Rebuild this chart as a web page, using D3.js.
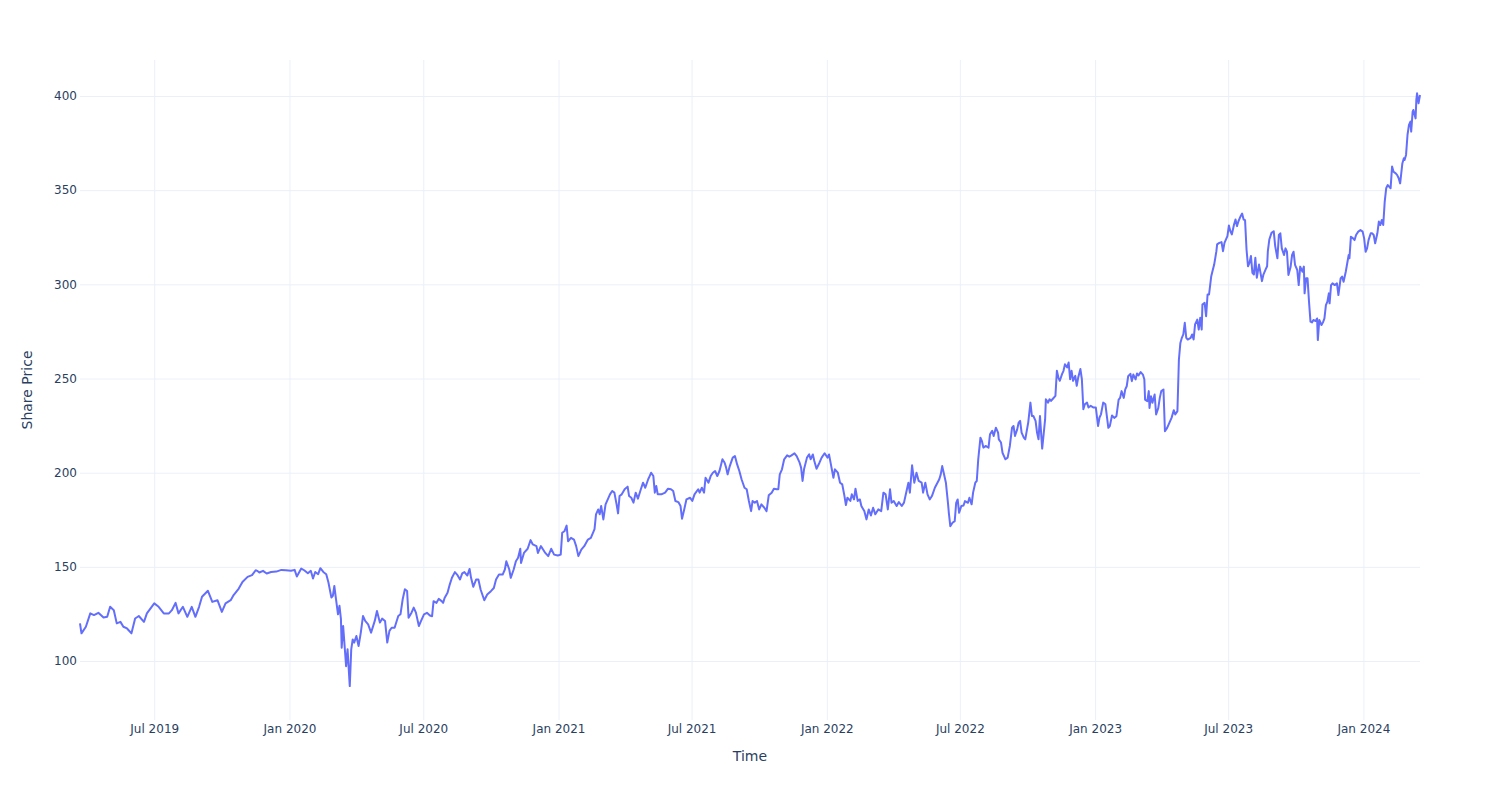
<!DOCTYPE html>
<html><head><meta charset="utf-8">
<script src="https://cdn.jsdelivr.net/npm/d3@7"></script>
<style>body{margin:0;background:#fff} svg{display:block}</style>
</head><body><svg id="chart" width="1500" height="800"></svg>
<script>
const prices2019 = [["2019-03-22",120],["2019-03-24",114.7],["2019-03-30",118.2],["2019-04-05",125.3],["2019-04-10",124.4],["2019-04-16",125.6],["2019-04-23",123.1],["2019-04-28",123.5],["2019-05-02",128.8],["2019-05-07",127],["2019-05-11",120],["2019-05-16",120.8],["2019-05-20",118.2],["2019-05-25",117.3],["2019-05-31",114.7],["2019-06-05",122.6],["2019-06-10",123.9],["2019-06-17",120.8],["2019-06-21",125.3],["2019-07-01",130.6],["2019-07-07",128.8],["2019-07-14",125.3],["2019-07-21",125.3],["2019-07-25",127],["2019-07-30",130.9],["2019-08-03",125.3],["2019-08-09",128.8],["2019-08-15",123.5],["2019-08-21",128.8],["2019-08-26",123.5],["2019-08-31",128.8],["2019-09-04",134.1],["2019-09-12",137.3],["2019-09-18",131.4],["2019-09-25",132.3],["2019-10-01",126.1],["2019-10-06",130.6],["2019-10-13",132.3],["2019-10-17",135],["2019-10-24",138.5],["2019-10-29",142],["2019-11-05",144.7],["2019-11-11",145.6],["2019-11-16",148.2],["2019-11-18",147.9],["2019-11-21",147],["2019-11-26",147.9],["2019-12-01",146.5],["2019-12-07",147.3],["2019-12-14",147.5],["2019-12-21",148.4],["2019-12-27",148.2]];
const prices2020 = [["2020-01-03",147.9],["2020-01-08",148.4],["2020-01-11",144.9],["2020-01-17",149.1],["2020-01-21",148.2],["2020-01-26",146.6],["2020-01-30",147.9],["2020-02-02",143.8],["2020-02-05",147.3],["2020-02-09",146.1],["2020-02-12",149.3],["2020-02-16",147.3],["2020-02-20",146.1],["2020-02-23",141.7],["2020-02-27",133.7],["2020-02-29",134.6],["2020-03-02",139.9],["2020-03-04",133.7],["2020-03-07",124.8],["2020-03-09",129.3],["2020-03-11",122.2],["2020-03-12",107.1],["2020-03-14",118.6],["2020-03-16",108],["2020-03-18",97.3],["2020-03-20",106.2],["2020-03-23",86.7],["2020-03-25",106.2],["2020-03-27",111.5],["2020-03-29",109.8],["2020-04-01",113.3],["2020-04-04",108],["2020-04-07",115.1],["2020-04-10",123.9],["2020-04-13",121.3],["2020-04-17",119.5],["2020-04-21",115.1],["2020-04-26",121.3],["2020-04-29",126.6],["2020-05-03",120.4],["2020-05-06",122.5],["2020-05-10",121.3],["2020-05-13",109.8],["2020-05-16",116],["2020-05-19",117.7],["2020-05-23",117.7],["2020-05-28",123.9],["2020-05-31",124.8],["2020-06-03",132.8],["2020-06-06",138.1],["2020-06-09",137.2],["2020-06-11",123],["2020-06-15",125.7],["2020-06-18",128.4],["2020-06-21",125.7],["2020-06-25",118.6],["2020-06-28",121.3],["2020-07-02",124.8],["2020-07-06",125.6],["2020-07-10",124.2],["2020-07-13",123.8],["2020-07-15",131.8],["2020-07-19",130.9],["2020-07-22",133],["2020-07-26",131.8],["2020-07-28",130.9],["2020-07-30",133.5],["2020-08-03",136.2],["2020-08-06",140.6],["2020-08-09",144.2],["2020-08-13",147.2],["2020-08-16",145.9],["2020-08-20",143.3],["2020-08-23",146.5],["2020-08-26",147.2],["2020-08-30",145.4],["2020-09-02",148.9],["2020-09-04",144.2],["2020-09-07",139.4],["2020-09-11",143.3],["2020-09-14",143.3],["2020-09-17",138],["2020-09-22",132.3],["2020-09-26",135.3],["2020-10-01",137.1],["2020-10-05",138.8],["2020-10-08",143.3],["2020-10-12",145.9],["2020-10-17",145.9],["2020-10-20",148.6],["2020-10-22",153],["2020-10-26",148.6],["2020-10-28",144.2],["2020-11-01",148.6],["2020-11-04",153],["2020-11-07",154.8],["2020-11-10",159.6],["2020-11-11",152.1],["2020-11-15",157.4],["2020-11-20",159.6],["2020-11-24",164.2],["2020-11-27",161.9],["2020-12-02",161],["2020-12-04",157.4],["2020-12-08",161],["2020-12-11",159.2],["2020-12-14",157.4],["2020-12-18",155.7],["2020-12-22",159.6],["2020-12-26",156.5],["2020-12-31",156]];
const prices2021 = [["2021-01-04",156.5],["2021-01-06",168.1],["2021-01-09",168.9],["2021-01-12",171.9],["2021-01-14",163.6],["2021-01-18",165.4],["2021-01-22",164.5],["2021-01-25",161],["2021-01-28",155.7],["2021-02-01",159.2],["2021-02-05",161],["2021-02-10",164.5],["2021-02-14",165.4],["2021-02-19",170],["2021-02-21",177.9],["2021-02-24",180.5],["2021-02-26",177.9],["2021-02-28",182.3],["2021-03-03",175.2],["2021-03-06",183.2],["2021-03-09",185.8],["2021-03-12",188.5],["2021-03-15",190.3],["2021-03-18",189.4],["2021-03-21",183.2],["2021-03-23",178.4],["2021-03-25",187.6],["2021-03-28",188.5],["2021-04-01",191.2],["2021-04-05",192.6],["2021-04-07",187.6],["2021-04-10",186.7],["2021-04-13",184.1],["2021-04-16",189.4],["2021-04-19",186.2],["2021-04-23",191.2],["2021-04-26",194.7],["2021-04-29",192],["2021-05-03",196.5],["2021-05-05",198.2],["2021-05-07",200],["2021-05-10",198.2],["2021-05-12",189.4],["2021-05-14",192.9],["2021-05-16",188.5],["2021-05-21",188.5],["2021-05-26",189.4],["2021-05-30",191.5],["2021-06-03",191.2],["2021-06-06",190.3],["2021-06-09",185],["2021-06-13",184.4],["2021-06-16",182.3],["2021-06-18",175.6],["2021-06-21",180.5],["2021-06-24",185.8],["2021-06-29",186.7],["2021-07-02",185],["2021-07-05",188.5],["2021-07-10",191.2],["2021-07-12",189.4],["2021-07-15",192],["2021-07-18",189.4],["2021-07-20",197.3],["2021-07-24",194.7],["2021-07-27",198.2],["2021-07-30",200],["2021-08-02",200.9],["2021-08-05",198.2],["2021-08-08",200.9],["2021-08-12",207.1],["2021-08-15",205.3],["2021-08-17",202.7],["2021-08-19",199.1],["2021-08-22",203.5],["2021-08-26",208],["2021-08-29",208.8],["2021-09-01",204.4],["2021-09-04",200.9],["2021-09-07",196.5],["2021-09-11",192],["2021-09-14",191.2],["2021-09-17",185],["2021-09-20",179.6],["2021-09-22",185],["2021-09-25",184.1],["2021-09-28",185],["2021-10-01",180.5],["2021-10-04",183.2],["2021-10-08",181.4],["2021-10-11",179.6],["2021-10-14",188],["2021-10-18",189.4],["2021-10-21",191.5],["2021-10-25",191.2],["2021-10-27",191.2],["2021-10-29",199.1],["2021-11-01",201.8],["2021-11-04",207.1],["2021-11-08",209.2],["2021-11-11",208.5],["2021-11-14",209.2],["2021-11-18",210.3],["2021-11-21",208.8],["2021-11-25",205.3],["2021-11-27",202.7],["2021-11-29",195.6],["2021-12-01",201.8],["2021-12-05",208],["2021-12-08",209.7],["2021-12-10",207.1],["2021-12-13",209.7],["2021-12-15",206.2],["2021-12-18",202.1],["2021-12-22",205.3],["2021-12-25",208],["2021-12-29",210.3]];
const prices2022 = [["2022-01-02",208],["2022-01-04",209.7],["2022-01-07",203.5],["2022-01-10",197.3],["2022-01-12",201.8],["2022-01-16",200],["2022-01-19",194.7],["2022-01-22",193.8],["2022-01-25",187.6],["2022-01-27",182.8],["2022-01-29",186.7],["2022-02-02",185],["2022-02-04",188.5],["2022-02-07",185.8],["2022-02-09",191.5],["2022-02-12",185],["2022-02-15",185.8],["2022-02-17",182.3],["2022-02-21",179.6],["2022-02-24",175.2],["2022-02-27",180.5],["2022-03-02",177.3],["2022-03-05",181.4],["2022-03-08",177.9],["2022-03-12",180.5],["2022-03-16",179.6],["2022-03-19",189.4],["2022-03-22",188.5],["2022-03-25",180.5],["2022-03-28",191.2],["2022-03-30",184.1],["2022-04-02",185],["2022-04-06",182.3],["2022-04-09",184.4],["2022-04-13",182.3],["2022-04-16",184.1],["2022-04-20",191.2],["2022-04-22",194.7],["2022-04-24",189.4],["2022-04-27",203.9],["2022-04-30",194.7],["2022-05-03",200],["2022-05-06",195.6],["2022-05-10",194.7],["2022-05-12",189.4],["2022-05-15",194.7],["2022-05-18",188.5],["2022-05-21",185.8],["2022-05-24",187.6],["2022-05-28",192],["2022-06-03",196.5],["2022-06-05",199.1],["2022-06-07",203.5],["2022-06-10",198.2],["2022-06-12",194.7],["2022-06-15",183.2],["2022-06-16",178.7],["2022-06-18",171.6],["2022-06-21",173.4],["2022-06-24",174.3],["2022-06-26",184],["2022-06-28",185.8],["2022-06-30",178.7],["2022-07-03",182.3],["2022-07-06",182.6],["2022-07-08",184.9],["2022-07-12",184],["2022-07-14",186.7],["2022-07-17",183.2],["2022-07-19",189.4],["2022-07-22",194.7],["2022-07-24",195.6],["2022-07-26",207.1],["2022-07-29",218.6],["2022-07-31",216.8],["2022-08-02",213.3],["2022-08-05",214.2],["2022-08-09",213.3],["2022-08-11",220.4],["2022-08-14",222.2],["2022-08-16",219.5],["2022-08-19",223.9],["2022-08-22",221.3],["2022-08-23",217.7],["2022-08-26",216],["2022-08-28",210.6],["2022-09-01",207.1],["2022-09-04",208],["2022-09-07",214.2],["2022-09-10",223.9],["2022-09-12",224.8],["2022-09-14",219.5],["2022-09-17",223],["2022-09-19",226.6],["2022-09-21",227.5],["2022-09-23",221.3],["2022-09-26",218.6],["2022-09-28",217.7],["2022-09-30",222.2],["2022-10-02",226.6],["2022-10-05",237.2],["2022-10-07",230.1],["2022-10-09",230.1],["2022-10-12",227.5],["2022-10-14",221.3],["2022-10-16",217.7],["2022-10-18",230.1],["2022-10-21",212.8],["2022-10-23",220.4],["2022-10-25",228.4],["2022-10-26",239],["2022-10-29",237.2],["2022-10-31",239],["2022-11-02",238.1],["2022-11-04",239],["2022-11-08",240.8],["2022-11-10",254.1],["2022-11-12",250.5],["2022-11-14",248.8],["2022-11-17",252.3],["2022-11-19",254.1],["2022-11-21",257.6],["2022-11-24",255.9],["2022-11-26",258.5],["2022-11-28",249.6],["2022-11-30",254.1],["2022-12-02",248.8],["2022-12-05",251.4],["2022-12-07",246.1],["2022-12-09",250.5],["2022-12-12",255],["2022-12-14",249.6],["2022-12-16",233.7],["2022-12-18",236.3],["2022-12-21",237.2],["2022-12-23",234.6],["2022-12-26",235.5],["2022-12-30",234.6]];
const prices2023 = [["2023-01-02",234.6],["2023-01-05",224.8],["2023-01-07",229.3],["2023-01-09",231],["2023-01-12",237.2],["2023-01-15",236.3],["2023-01-17",230],["2023-01-19",223.8],["2023-01-21",224.7],["2023-01-24",230.4],["2023-01-27",229.1],["2023-01-30",230],["2023-02-02",238.8],["2023-02-04",239.7],["2023-02-06",243.3],["2023-02-09",239.7],["2023-02-11",244.2],["2023-02-13",245.9],["2023-02-15",251.2],["2023-02-18",252.5],["2023-02-20",248.6],["2023-02-22",252.1],["2023-02-25",249.5],["2023-02-27",252.7],["2023-03-01",251.6],["2023-03-04",253.4],["2023-03-07",252.1],["2023-03-09",249.5],["2023-03-10",238.8],["2023-03-13",238],["2023-03-15",243.3],["2023-03-16",234.4],["2023-03-18",240.6],["2023-03-20",237.1],["2023-03-23",241.5],["2023-03-25",230.9],["2023-03-28",234.4],["2023-03-30",239.7],["2023-04-01",243.3],["2023-04-04",244.2],["2023-04-06",222],["2023-04-09",223.8],["2023-04-12",226.5],["2023-04-15",229.1],["2023-04-18",233.2],["2023-04-20",230.9],["2023-04-23",232.7],["2023-04-25",260.1],["2023-04-27",268.9],["2023-04-29",271.6],["2023-05-01",273.4],["2023-05-03",279.6],["2023-05-05",271.6],["2023-05-07",270.7],["2023-05-11",271.6],["2023-05-13",273.4],["2023-05-15",270.7],["2023-05-17",278.7],["2023-05-20",281.3],["2023-05-22",276],["2023-05-24",282.2],["2023-05-26",276],["2023-05-27",289.3],["2023-05-30",290.2],["2023-06-01",283.1],["2023-06-03",294.6],["2023-06-05",294.6],["2023-06-08",304.3],["2023-06-10",307.5],["2023-06-12",310.5],["2023-06-15",317.6],["2023-06-16",321.2],["2023-06-19",322],["2023-06-22",322.4],["2023-06-24",317.6],["2023-06-26",322],["2023-06-30",325.6],["2023-07-02",331.2],["2023-07-04",328.2],["2023-07-06",326.5],["2023-07-09",331.8],["2023-07-11",334.4],["2023-07-13",330.9],["2023-07-15",333.5],["2023-07-18",336.2],["2023-07-20",337.6],["2023-07-22",334.4],["2023-07-24",334.1],["2023-07-26",318.5],["2023-07-28",309.6],["2023-07-30",311.4],["2023-08-01",315],["2023-08-03",306.1],["2023-08-05",305.2],["2023-08-07",314.1],["2023-08-09",303.5],["2023-08-12",310.5],["2023-08-14",306.1],["2023-08-16",301.7],["2023-08-18",305.2],["2023-08-21",307.9],["2023-08-23",309.6],["2023-08-24",317.6],["2023-08-26",323.8],["2023-08-29",327.3],["2023-09-01",328.2],["2023-09-03",320.3],["2023-09-06",313.8],["2023-09-08",326.2],["2023-09-10",327.1],["2023-09-12",319.1],["2023-09-15",315.6],["2023-09-17",319.1],["2023-09-19",317.3],["2023-09-21",305],["2023-09-24",309.4],["2023-09-26",315.6],["2023-09-28",317.3],["2023-09-30",310.3],["2023-10-03",307.6],["2023-10-05",299.6],["2023-10-07",309.4],["2023-10-10",306.7],["2023-10-12",309.4],["2023-10-13",295.2],["2023-10-15",303.2],["2023-10-17",303.2],["2023-10-19",290.8],["2023-10-21",280.2],["2023-10-23",279.8],["2023-10-25",281.1],["2023-10-28",280.5],["2023-10-30",281.9],["2023-10-31",270.4],["2023-11-02",281.1],["2023-11-05",278.4],["2023-11-07",279.8],["2023-11-09",281.9],["2023-11-11",289],["2023-11-13",290.8],["2023-11-15",295.2],["2023-11-16",289.9],["2023-11-18",299.6],["2023-11-20",300.5],["2023-11-23",299.6],["2023-11-26",300.5],["2023-11-28",294.3],["2023-12-01",303.2],["2023-12-03",304.1],["2023-12-05",301.4],["2023-12-08",306.7],["2023-12-10",311.2],["2023-12-12",315.6],["2023-12-13",313.8],["2023-12-15",325.3],["2023-12-18",324.4],["2023-12-20",323.5],["2023-12-22",326.2],["2023-12-25",328],["2023-12-28",328.8],["2023-12-31",328]];
const prices2024 = [["2024-01-02",324.4],["2024-01-04",317.3],["2024-01-06",319.1],["2024-01-08",323.5],["2024-01-11",327.1],["2024-01-13",327.1],["2024-01-15",326.2],["2024-01-17",321.8],["2024-01-20",327.1],["2024-01-22",333.3],["2024-01-24",331.5],["2024-01-26",334.2],["2024-01-28",331.5],["2024-01-30",343.9],["2024-02-01",351],["2024-02-03",352.7],["2024-02-05",351.9],["2024-02-07",351],["2024-02-09",362.5],["2024-02-11",359.8],["2024-02-14",358.9],["2024-02-16",358],["2024-02-18",356.3],["2024-02-20",353.6],["2024-02-23",364.2],["2024-02-25",366.9],["2024-02-26",366],["2024-02-28",368.7],["2024-03-01",379.3],["2024-03-03",384.6],["2024-03-05",386.4],["2024-03-06",381.1],["2024-03-08",391.7],["2024-03-09",392.6],["2024-03-12",388.1],["2024-03-13",397.9],["2024-03-14",401.4],["2024-03-16",396.1],["2024-03-18",400.5]];

const yTicks = [100, 150, 200, 250, 300, 350, 400];
const xTicks = ["2019-07-01","2020-01-01","2020-07-01","2021-01-01","2021-07-01","2022-01-01","2022-07-01","2023-01-01","2023-07-01","2024-01-01"];
const yDomain = [68.7, 419.1];
const xTitle = "Time";
const yTitle = "Share Price";

const parse = d3.timeParse("%Y-%m-%d");
const data = [].concat(prices2019, prices2020, prices2021, prices2022, prices2023, prices2024)
  .map(([d, v]) => ({ date: parse(d), value: v }));

const W = 1500, H = 800;
const m = { top: 60, right: 80, bottom: 80, left: 80 };
const font = "'DejaVu Sans', Verdana, sans-serif";
const textColor = "#2a3f5f";
const gridColor = "#EBF0F8";

const x = d3.scaleTime().domain(d3.extent(data, d => d.date)).range([m.left, W - m.right]);
const y = d3.scaleLinear().domain(yDomain).range([H - m.bottom, m.top]);

const svg = d3.select("#chart");
svg.append("rect").attr("width", W).attr("height", H).attr("fill", "#fff");

const xAxis = svg.append("g")
  .attr("transform", `translate(0,${H - m.bottom})`)
  .call(d3.axisBottom(x).tickValues(xTicks.map(parse)).tickFormat(d3.timeFormat("%b %Y"))
    .tickSize(-(H - m.top - m.bottom)).tickPadding(4));
xAxis.select(".domain").remove();
xAxis.selectAll(".tick line").attr("stroke", gridColor).attr("stroke-width", 1);
xAxis.selectAll(".tick text").attr("fill", textColor).style("font-family", font).style("font-size", "12px");

const yAxis = svg.append("g")
  .attr("transform", `translate(${m.left},0)`)
  .call(d3.axisLeft(y).tickValues(yTicks).tickFormat(d3.format("d"))
    .tickSize(-(W - m.left - m.right)).tickPadding(3));
yAxis.select(".domain").remove();
yAxis.selectAll(".tick line").attr("stroke", gridColor).attr("stroke-width", 1);
yAxis.selectAll(".tick text").attr("fill", textColor).style("font-family", font).style("font-size", "12px");

const line = d3.line().x(d => x(d.date)).y(d => y(d.value));
svg.append("path").datum(data)
  .attr("d", line)
  .attr("fill", "none")
  .attr("stroke", "#636efa")
  .attr("stroke-width", 2)
  .attr("stroke-linejoin", "round");

svg.append("text")
  .attr("x", (m.left + W - m.right) / 2).attr("y", 761)
  .attr("text-anchor", "middle")
  .attr("fill", textColor).style("font-family", font).style("font-size", "14px")
  .text(xTitle);

svg.append("text")
  .attr("transform", `translate(31.5,${(m.top + H - m.bottom) / 2}) rotate(-90)`)
  .attr("text-anchor", "middle")
  .attr("fill", textColor).style("font-family", font).style("font-size", "14px")
  .text(yTitle);
</script>
</body></html>
